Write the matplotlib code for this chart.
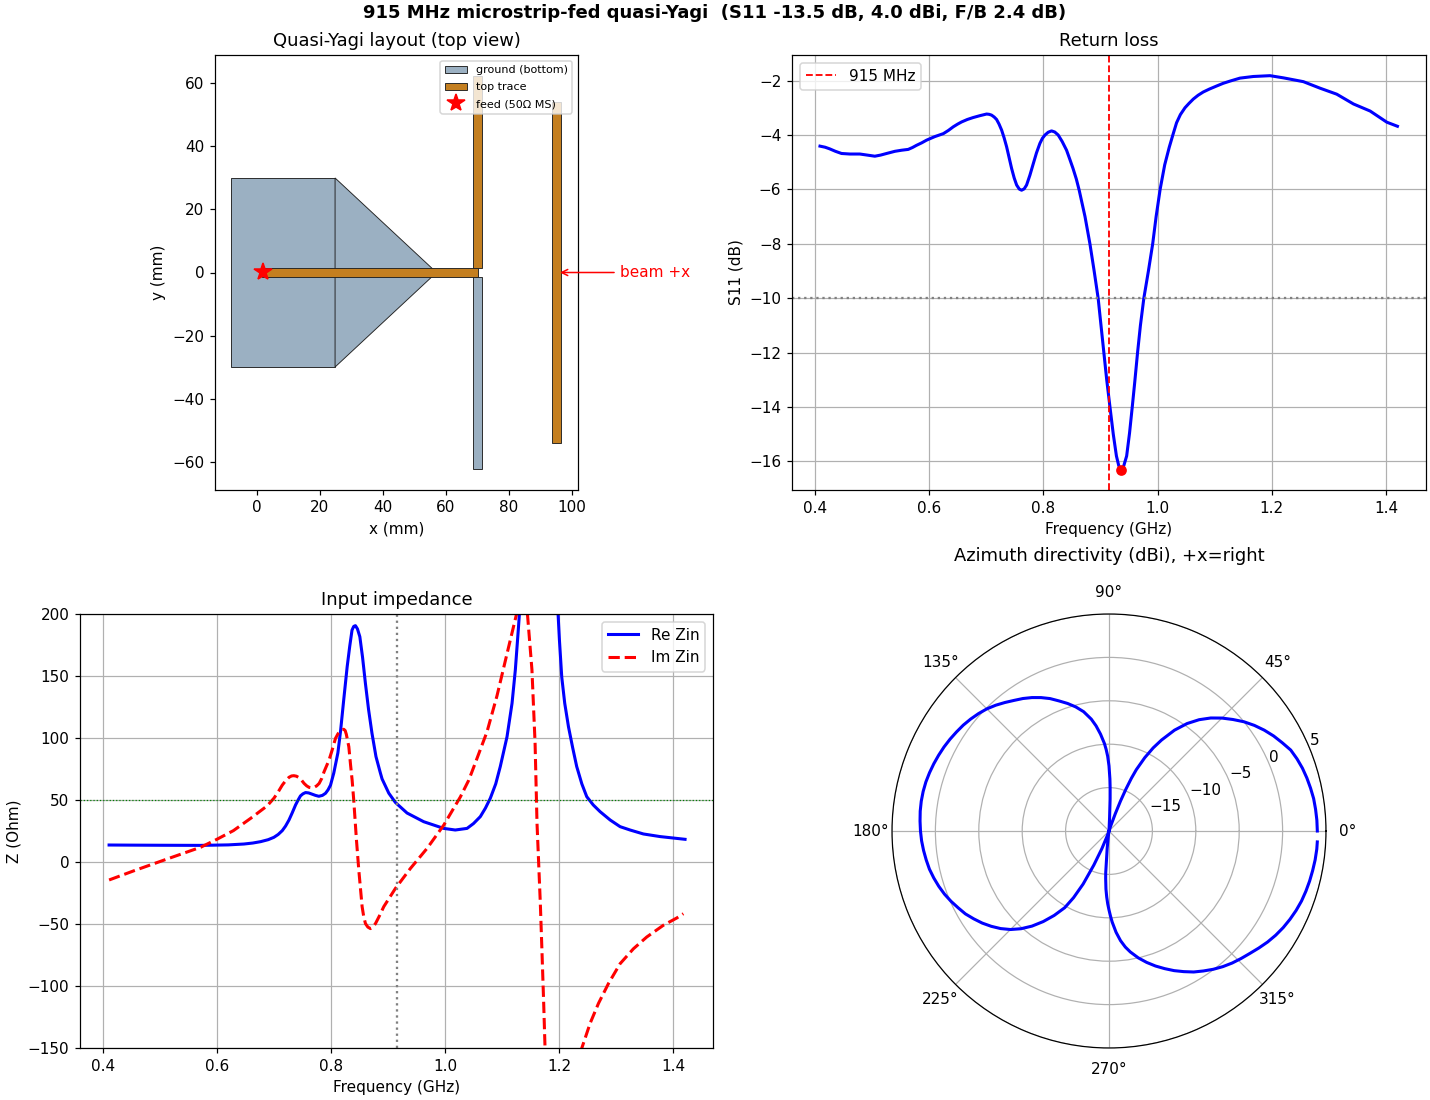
#!/usr/bin/env python
# -*- coding: utf-8 -*-

"""Quasi-Yagi summary figure: layout, return loss, impedance and azimuth pattern."""

import numpy as np
import matplotlib
matplotlib.use("Agg")
import matplotlib.pyplot as plt
from matplotlib.patches import Polygon

W, H = 1430, 1100

# layout, mm
GROUND = [(-8.3, -30), (24.8, -30), (24.8, 30), (-8.3, 30)]
TAPER = [(24.8, 30), (57, 0), (24.8, -30)]
FEED_LINE = [(1.6, -1.5), (70.2, -1.5), (70.2, 1.5), (1.6, 1.5)]
DRIVER_TOP = [(68.6, 1.5), (71.4, 1.5), (71.4, 62.5), (68.6, 62.5)]
DRIVER_BOT = [(68.6, -1.5), (71.4, -1.5), (71.4, -62.5), (68.6, -62.5)]
DIRECTOR = [(93.6, -54), (96.6, -54), (96.6, 54), (93.6, 54)]
FEED_XY = (1.8, 0.3)

# return loss
S11_FREQ = [0.409, 0.418, 0.426, 0.436, 0.4467, 0.4613, 0.4788, 0.492, 0.505, 0.515, 0.5256,
            0.5402, 0.552, 0.5635, 0.571, 0.578, 0.587, 0.5956, 0.61, 0.625, 0.634, 0.6423,
            0.65, 0.657, 0.667, 0.677, 0.689, 0.7007, 0.705, 0.7094, 0.714, 0.7182, 0.7225,
            0.727, 0.7313, 0.7357, 0.74, 0.7445, 0.749, 0.7533, 0.758, 0.762, 0.7665, 0.7707,
            0.7765, 0.7825, 0.788, 0.794, 0.7985, 0.803, 0.8085, 0.8144, 0.82, 0.826, 0.833,
            0.8407, 0.846, 0.852, 0.8578, 0.8628, 0.873, 0.8816, 0.889, 0.896, 0.901, 0.906,
            0.911, 0.9167, 0.9225, 0.928, 0.932, 0.934, 0.9365, 0.939, 0.941, 0.9459, 0.951,
            0.9557, 0.96, 0.965, 0.97, 0.976, 0.984, 0.9915, 0.9975, 1.0045, 1.0125, 1.0205,
            1.0275, 1.0333, 1.04, 1.048, 1.055, 1.0626, 1.071, 1.08, 1.091, 1.1034,
            1.115, 1.1268, 1.1443, 1.1677, 1.1969, 1.2203, 1.2553, 1.2845, 1.3137, 1.343,
            1.3722, 1.4014, 1.42]
S11_DB = [-4.41, -4.45, -4.51, -4.60, -4.68, -4.70, -4.70, -4.74, -4.78, -4.74, -4.68,
          -4.60, -4.56, -4.53, -4.46, -4.38, -4.29, -4.19, -4.06, -3.95, -3.83, -3.70,
          -3.60, -3.52, -3.43, -3.36, -3.29, -3.23, -3.24, -3.27, -3.34, -3.43, -3.60,
          -3.82, -4.10, -4.43, -4.82, -5.23, -5.58, -5.84, -5.99, -6.03, -5.98, -5.84,
          -5.48, -5.05, -4.66, -4.31, -4.12, -4.00, -3.90, -3.85, -3.89, -4.00, -4.24,
          -4.56, -4.87, -5.23, -5.62, -6.03, -7.0, -8.0, -9.0, -10.0, -11.0, -12.0,
          -13.0, -14.0, -15.0, -15.8, -16.15, -16.25, -16.3, -16.25, -16.15, -15.8, -14.95,
          -14.0, -13.1, -12.0, -11.0, -10.0, -9.0, -8.0, -7.0, -6.0, -5.1, -4.45,
          -3.95, -3.55, -3.25, -3.0, -2.84, -2.68, -2.54, -2.42, -2.31, -2.20,
          -2.10, -2.02, -1.91, -1.85, -1.82, -1.90, -2.04, -2.28, -2.50, -2.86,
          -3.12, -3.53, -3.68]
S11_MIN = (0.9365, -16.3)

# input impedance, values past the plot window are estimates
RE_FREQ = [0.411, 0.45, 0.5, 0.5716, 0.62, 0.6475, 0.663, 0.6767, 0.69, 0.70, 0.7075, 0.7147,
           0.7205, 0.7265, 0.732, 0.738, 0.7425, 0.7466, 0.751, 0.7555, 0.761, 0.767, 0.773,
           0.7788, 0.785, 0.7905, 0.795, 0.7993, 0.805, 0.8122, 0.817, 0.8225, 0.8285, 0.833,
           0.837, 0.84, 0.843, 0.8465, 0.8507, 0.8555, 0.8605, 0.866, 0.872, 0.879, 0.8866,
           0.8897, 0.9015, 0.9131, 0.9335, 0.9627, 0.9978, 1.018, 1.0387, 1.05, 1.062, 1.071,
           1.0795, 1.089, 1.097, 1.1088, 1.1176, 1.1234, 1.129, 1.135, 1.15, 1.165, 1.18,
           1.19, 1.198, 1.2007, 1.2048, 1.21, 1.2166, 1.224, 1.231, 1.24, 1.2486, 1.26, 1.272,
           1.2896, 1.3071, 1.3246, 1.348, 1.3772, 1.421]
RE_ZIN = [13.7, 13.6, 13.5, 13.4, 13.8, 14.5, 15.3, 16.4, 18, 19.9, 22.2, 25.3,
          29, 33.9, 39.5, 46, 50, 53.3, 55, 56, 55.7, 54.7, 53.7,
          53, 53.7, 55.4, 58.2, 62, 71.7, 88, 106, 131, 157.5, 174,
          187, 190, 190.6, 188, 181.7, 165, 144, 123, 103.8, 85, 72,
          67, 55.5, 48, 39.5, 32.5, 27.1, 25.8, 27.1, 31, 36.6, 43.5,
          51.4, 63, 77, 101, 128, 155, 190, 230, 340, 420, 340,
          240, 203, 179, 149, 128, 109, 92, 77, 63, 52.7, 46, 40.6,
          33.9, 28.5, 25.8, 22.6, 20.5, 18.3]
IM_FREQ = [0.411, 0.455, 0.5132, 0.5716, 0.6, 0.629, 0.6592, 0.688, 0.70, 0.7075, 0.7147, 0.7205,
           0.7265, 0.731, 0.735, 0.7395, 0.744, 0.7485, 0.7529, 0.7575, 0.7617, 0.766, 0.7706,
           0.775, 0.7794, 0.784, 0.788, 0.7965, 0.802, 0.808, 0.8125, 0.8165, 0.82, 0.8226,
           0.825, 0.827, 0.8314, 0.8345, 0.8372, 0.84, 0.8448, 0.8489, 0.8547, 0.8575, 0.8606,
           0.8648, 0.8693, 0.8735, 0.8781, 0.885, 0.8927, 0.9131, 0.9394, 0.9686, 0.9978,
           1.027, 1.0417, 1.05, 1.0737, 1.0912, 1.1088, 1.125, 1.135, 1.1448, 1.1525, 1.158,
           1.1614, 1.1643, 1.1672, 1.1702, 1.1731, 1.1754, 1.19, 1.21, 1.24, 1.2546, 1.2692,
           1.2867, 1.3071, 1.3304, 1.3538, 1.383, 1.4063, 1.418]
IM_ZIN = [-14.5, -7, 2.5, 11.9, 18.3, 25.3, 35.2, 45.2, 51.4, 56.5, 62, 65.5,
          68.3, 69.4, 69.6, 69.2, 68, 66, 63.4, 61.4, 60.2, 59.9, 60.2,
          61.4, 63.4, 67.5, 72.8, 82, 90, 99.7, 103.5, 105.5, 106.8, 107,
          106, 103, 93, 78, 66, 50, 17.6, -6.6, -36, -44, -49.7,
          -52.5, -53.7, -52.5, -49.7, -43.5, -36, -21.3, -5.2, 11, 29.7,
          52.5, 66, 76, 105, 134, 168, 199, 230, 199, 155, 96,
          31.2, -1, -33.3, -73.6, -114, -149, -260, -230, -150, -130, -114,
          -98, -82, -70, -60.5, -51, -45.2, -41.7]

# azimuth pattern, dBi, floor at the -20 dB centre of the plot
AZ_DEG = [0, 3, 6, 9, 12, 15, 18, 21, 24, 27, 30, 33, 36, 39, 42, 45, 48, 51, 54, 57, 60, 62,
          64, 66, 67, 68, 69, 70, 71, 72, 87, 87.5, 88, 88.5, 89, 90, 91, 92, 93, 95, 97, 99,
          102, 105, 108, 111, 114, 117, 120, 123, 126, 129, 132, 135, 138, 141, 144, 147, 150,
          153, 156, 159, 162, 165, 168, 171, 174, 177, 180, 183, 186, 189, 192, 195, 198, 201,
          204, 207, 210, 213, 216, 219, 222, 225, 228, 231, 234, 237, 240, 242, 244, 246, 248,
          250, 251, 260, 262, 263, 264, 265, 265.5, 266, 267, 268, 269, 270, 271, 272, 274,
          276, 278, 280, 283, 286, 289, 292, 295, 298, 301, 304, 307, 310, 313, 316, 319, 322,
          325, 328, 331, 334, 337, 340, 343, 346, 349, 352, 355, 357]
AZ_DBI = [4.0, 3.98, 3.93, 3.87, 3.74, 3.6, 3.43, 3.2, 2.92, 2.4, 1.9, 1.33, 0.7, 0.0, -0.8, -1.6,
          -2.48, -3.5, -4.7, -6.15, -7.9, -9.15, -10.6, -12.27, -13.4, -14.8, -16.3, -17.9, -19.3, -20,
          -20, -18.5, -16.3, -15.0, -14.0, -12.5, -11.4, -10.6, -9.9, -8.8, -7.8, -6.95,
          -5.95, -5.2, -4.55, -3.95, -3.3, -2.75, -2.25, -1.8, -1.4, -0.95, -0.5, -0.1, 0.22, 0.5, 0.75, 0.95, 1.15,
          1.33, 1.48, 1.62, 1.74, 1.84, 1.89, 1.9, 1.87, 1.8, 1.72, 1.62, 1.48, 1.32, 1.15, 0.9, 0.62, 0.3,
          -0.08, -0.5, -0.9, -1.42, -1.95, -2.55, -3.2, -3.95, -4.85, -5.9, -7.1, -8.4, -9.8, -11.3, -13.2, -15.7, -17.8,
          -19.4, -20, -20, -19.6, -19.2, -18.0, -16.5, -15.2, -14.5, -13.3, -12.4, -11.6, -10.9, -10.2, -9.5, -8.3,
          -7.3, -6.5, -5.85, -5.0, -4.25, -3.55, -2.9, -2.25, -1.65, -1.05, -0.55, -0.05, 0.4, 0.8, 1.15, 1.5, 1.9,
          2.3, 2.65, 2.95, 3.2, 3.42, 3.6, 3.72, 3.82, 3.9, 3.98, 4.03, 4.03]

GROUND_COLOR = "#9bb0c2"
TRACE_COLOR = "#c47f20"


def px_box(left, top, right, bottom):
    """Axes rectangle from pixel edges measured on the picture."""
    return [left / W, 1 - bottom / H, (right - left) / W, (bottom - top) / H]


def draw_layout(ax):
    ax.add_patch(Polygon(GROUND, closed=True, fc=GROUND_COLOR, ec="#222222", lw=0.6, label="ground (bottom)"))
    ax.add_patch(Polygon(TAPER, closed=True, fc=GROUND_COLOR, ec="#222222", lw=0.6))
    ax.add_patch(Polygon(DRIVER_BOT, closed=True, fc=GROUND_COLOR, ec="#222222", lw=0.6))
    for shape, label in [(DRIVER_TOP, "top trace"), (DIRECTOR, None), (FEED_LINE, None)]:
        ax.add_patch(Polygon(shape, closed=True, fc=TRACE_COLOR, ec="#222222", lw=0.6, label=label))
    ax.plot([FEED_XY[0]], [FEED_XY[1]], "*", color="red", ms=12, ls="none", label="feed (50Ω MS)")
    ax.annotate("beam +x", xy=(95.2, 0), xytext=(115.3, 0), color="red", va="center", annotation_clip=False,
                arrowprops=dict(arrowstyle="->", color="red"))
    ax.set_xlim(-13.3, 101.9)
    ax.set_ylim(-68.9, 68.9)
    ax.set_aspect("equal")
    ax.set_xlabel("x (mm)")
    ax.set_ylabel("y (mm)")
    ax.set_title("Quasi-Yagi layout (top view)", fontsize=11.7)
    ax.legend(loc="upper right", fontsize=7.3, labelspacing=0.62)


def draw_s11(ax):
    ax.plot(S11_FREQ, S11_DB, color="blue", lw=2)
    ax.axvline(0.915, color="red", ls="--", lw=1.2, label="915 MHz")
    ax.axhline(-10, color="gray", ls=":")
    ax.plot([S11_MIN[0]], [S11_MIN[1]], "o", color="red", ms=6)
    ax.set_xlim(0.36, 1.47)
    ax.set_ylim(-17.05, -1.06)
    ax.set_xlabel("Frequency (GHz)")
    ax.set_ylabel("S11 (dB)")
    ax.set_title("Return loss", fontsize=11.7)
    ax.grid(True)
    ax.legend(loc="upper left")


def draw_impedance(ax):
    ax.plot(RE_FREQ, RE_ZIN, color="blue", lw=2, label="Re Zin")
    ax.plot(IM_FREQ, IM_ZIN, color="red", ls="--", lw=2, label="Im Zin")
    ax.axhline(50, color="green", ls=":", lw=0.8)
    ax.axvline(0.915, color="gray", ls=":")
    ax.set_xlim(0.36, 1.47)
    ax.set_ylim(-150, 200)
    ax.set_xlabel("Frequency (GHz)")
    ax.set_ylabel("Z (Ohm)")
    ax.set_title("Input impedance", fontsize=11.7)
    ax.grid(True)
    ax.legend(loc="upper right")


def draw_pattern(ax):
    ax.plot(np.deg2rad(AZ_DEG), AZ_DBI, color="blue", lw=2)
    ax.set_rlim(-20, 5)
    ax.set_yticks([-15, -10, -5, 0, 5])
    ax.set_title("Azimuth directivity (dBi), +x=right", y=1.10, fontsize=11.7)
    ax.grid(True)


def main() -> None:
    fig = plt.figure(figsize=(13, 10), dpi=110)
    draw_layout(fig.add_axes(px_box(215, 55, 578, 490)))
    draw_s11(fig.add_axes(px_box(792, 55, 1426, 490)))
    draw_impedance(fig.add_axes(px_box(80, 614, 713, 1048)))
    draw_pattern(fig.add_axes(px_box(892, 614, 1326, 1048), projection="polar"))
    fig.suptitle("915 MHz microstrip-fed quasi-Yagi  (S11 -13.5 dB, 4.0 dBi, F/B 2.4 dB)",
                 fontweight="bold", fontsize=11.8, x=715 / W, y=1 - 13 / H, va="center")
    fig.savefig("out.png", dpi=110)


if __name__ == "__main__":
    main()
